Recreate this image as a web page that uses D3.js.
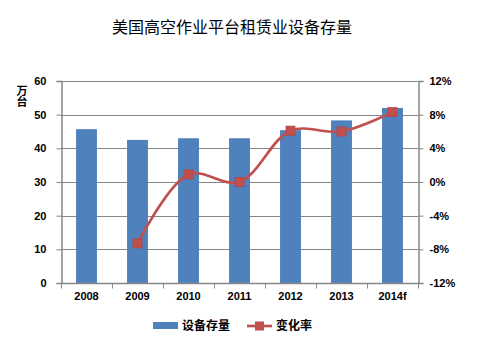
<!DOCTYPE html>
<html>
<head>
<meta charset="utf-8">
<script src="https://cdn.jsdelivr.net/npm/d3@7/dist/d3.min.js"></script>
<style>
  body { margin: 0; background: #fff; }
  svg { display: block; }
  text { font-family: "Liberation Sans", Arial, "Noto Sans CJK SC", sans-serif; }
  .cjk { font-family: "Noto Sans CJK SC", sans-serif; }
</style>
</head>
<body>
<svg id="chart" width="485" height="347"></svg>
<script>
// Data
const years = ["2008", "2009", "2010", "2011", "2012", "2013", "2014f"];
const stock = [45.7, 42.5, 43.0, 43.0, 45.4, 48.3, 52.0];      // 万台
const changeRate = [null, -7.3, 0.9, 0.0, 6.1, 6.0, 8.3];     // %
const leftTicks = [0, 10, 20, 30, 40, 50, 60];
const rightTicks = [-12, -8, -4, 0, 4, 8, 12];

const svg = d3.select("#chart");
const m = { left: 61, right: 418, top: 81, bottom: 283 };
const axisColor = "#868686";

const x = d3.scaleBand().domain(years).range([m.left, m.right]).paddingInner(0.59).paddingOuter(0.295);
const xOuter = d3.scaleBand().domain(years).range([m.left, m.right]);
const yL = d3.scaleLinear().domain([0, 60]).range([m.bottom, m.top]);
const yR = d3.scaleLinear().domain([-12, 12]).range([m.bottom, m.top]);

// Title
svg.append("text").attr("class", "cjk")
  .attr("x", 232).attr("y", 33).attr("text-anchor", "middle")
  .attr("font-size", 16).attr("fill", "#000")
  .text("美国高空作业平台租赁业设备存量");

// Gridlines
svg.append("g").selectAll("line").data(leftTicks.filter(d => d > 0)).join("line")
  .attr("x1", m.left).attr("x2", m.right)
  .attr("y1", d => Math.round(yL(d)) + 0.5).attr("y2", d => Math.round(yL(d)) + 0.5)
  .attr("stroke", axisColor).attr("stroke-width", 1);

// Bars
svg.append("g").selectAll("rect").data(years).join("rect")
  .attr("x", d => x(d)).attr("width", x.bandwidth())
  .attr("y", (d, i) => yL(stock[i])).attr("height", (d, i) => yL(0) - yL(stock[i]))
  .attr("fill", "#4F81BD");

// Left axis
const gL = svg.append("g").attr("transform", `translate(${m.left + 0.5},0)`)
  .call(d3.axisLeft(yL).tickValues(leftTicks).tickSize(5).tickPadding(10));
// Right axis
const gR = svg.append("g").attr("transform", `translate(${m.right + 0.5},0)`)
  .call(d3.axisRight(yR).tickValues(rightTicks).tickSize(5).tickPadding(6).tickFormat(d => d + "%"));
// Bottom axis with ticks at category boundaries
const gB = svg.append("g").attr("transform", `translate(0,${m.bottom + 0.5})`)
  .call(d3.axisBottom(x).tickSize(0).tickPadding(9));
gB.selectAll(".bnd").data(years.concat(["end"])).join("line").attr("class", "bnd")
  .attr("x1", (d, i) => Math.round(m.left + i * xOuter.step()) + 0.5)
  .attr("x2", (d, i) => Math.round(m.left + i * xOuter.step()) + 0.5)
  .attr("y1", 0).attr("y2", 5).attr("stroke", axisColor);

[gL, gR, gB].forEach(g => {
  g.selectAll("path.domain").attr("stroke", axisColor).attr("stroke-width", 1.5);
  g.selectAll(".tick line").attr("stroke", axisColor);
  g.selectAll("text").attr("font-size", 11).attr("font-weight", "bold").attr("fill", "#000");
});
gB.selectAll("path.domain").attr("d", `M${m.left},0H${m.right + 0.5}`);

// Left unit label, stacked vertically
svg.append("text").attr("class", "cjk")
  .attr("x", 22).attr("y", 85)
  .style("writing-mode", "vertical-rl")
  .attr("font-size", 11).attr("font-weight", "bold").attr("fill", "#000")
  .text("万台");

// Change-rate line
const pts = years.map((d, i) => ({ year: d, v: changeRate[i] })).filter(p => p.v !== null);
const line = d3.line().x(p => x(p.year) + x.bandwidth() / 2).y(p => yR(p.v)).curve(d3.curveCatmullRom.alpha(0.5));
svg.append("path").datum(pts).attr("d", line)
  .attr("fill", "none").attr("stroke", "#C0504D").attr("stroke-width", 2.7);
svg.append("g").selectAll("rect").data(pts).join("rect")
  .attr("x", p => x(p.year) + x.bandwidth() / 2 - 4.5).attr("y", p => yR(p.v) - 4.5)
  .attr("width", 9).attr("height", 9)
  .attr("fill", "#C0504D").attr("stroke", "#B9413E").attr("stroke-width", 0.8);

// Legend
const lg = svg.append("g");
lg.append("rect").attr("x", 153).attr("y", 322).attr("width", 25).attr("height", 7).attr("fill", "#4F81BD");
lg.append("text").attr("class", "cjk").attr("x", 182).attr("y", 330).attr("font-size", 12).attr("font-weight", "bold").text("设备存量");
lg.append("line").attr("x1", 247).attr("x2", 272).attr("y1", 326).attr("y2", 326).attr("stroke", "#C0504D").attr("stroke-width", 2.7);
lg.append("rect").attr("x", 255).attr("y", 321.5).attr("width", 9).attr("height", 9).attr("fill", "#C0504D");
lg.append("text").attr("class", "cjk").attr("x", 276).attr("y", 330).attr("font-size", 12).attr("font-weight", "bold").text("变化率");
</script>
</body>
</html>
